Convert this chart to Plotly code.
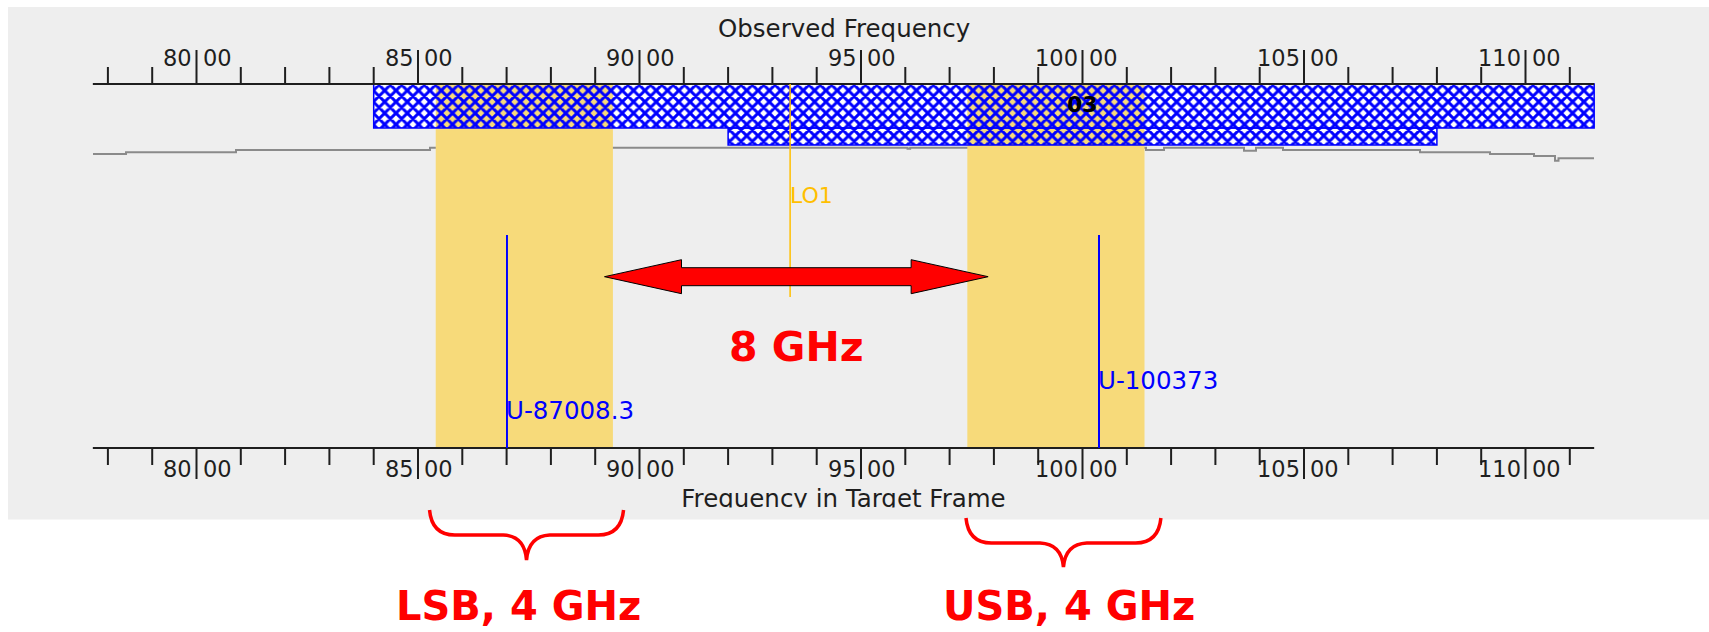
import plotly.graph_objects as go

# ---------------------------------------------------------------- data (MHz)
FREQ_MIN = 77660
FREQ_MAX = 111550
MAJOR_TICKS = [80000, 85000, 90000, 95000, 100000, 105000, 110000]
MINOR_TICKS = [f for f in range(78000, 111001, 1000) if f not in MAJOR_TICKS]

RX_BAND = [84000, 116000]          # receiver band 3
RX_BAND_LABEL = "03"
LO_TUNING = [92000, 108000]        # LO1 tuning range
LO1_FREQ = 93400
LO1_LABEL = "LO1"
LSB_RANGE = [85400, 89400]
USB_RANGE = [97400, 101400]
LINE_FREQS = [87008.3, 100373]
LINE_LABELS = ["U-87008.3", "U-100373"]

# atmospheric transmission across the displayed span
ATM_FREQ = [77664, 78409, 80892, 85271, 96050, 96110, 101433, 101840, 103646,
            103916, 104526, 107619, 109199, 110192, 110666, 110745, 111546]
ATM_TRANS = [0.760, 0.777, 0.800, 0.823, 0.813, 0.823, 0.800, 0.823, 0.793,
             0.823, 0.800, 0.777, 0.760, 0.740, 0.693, 0.717, 0.717]

# ---------------------------------------------------------------- layout
W, H = 1709, 632
PX_PER_MHZ = 0.0443
X0 = 80000 - 196.5 / PX_PER_MHZ
X1 = X0 + W / PX_PER_MHZ

TOP_AXIS, BOT_AXIS = 84, 448
FONT = "DejaVu Sans"
INK = "#1e1e1e"
BLUE = "#0000FF"
YELLOW = "#F7DA7A"
ORANGE = "#FFBF00"
RED = "#FF0000"
BG = "#EEEEEE"


def py(row):
    """row (pixels from top) -> paper fraction"""
    return 1 - row / H


def segments(xs, r0, r1):
    x, y = [], []
    for f in xs:
        x += [f, f, None]
        y += [r0, r1, None]
    return x, y


def hbar(lo, hi, r0, r1, **kw):
    return go.Bar(orientation="h", base=[lo], x=[hi - lo], y=[(r0 + r1) / 2],
                  width=[r1 - r0], yaxis="y2", hoverinfo="skip", showlegend=False, **kw)


fig = go.Figure()

# transmission curve (base axis, drawn beneath everything else)
fig.add_trace(go.Scatter(x=ATM_FREQ, y=ATM_TRANS, mode="lines", yaxis="y",
                         line=dict(color="#8A8A8A", width=2, shape="hv"),
                         hoverinfo="skip", showlegend=False))

# frequency axes with ticks
ax_x = [FREQ_MIN, FREQ_MAX, None, FREQ_MIN, FREQ_MAX]
ax_y = [TOP_AXIS, TOP_AXIS, None, BOT_AXIS, BOT_AXIS]
for xs, r0, r1 in [(MINOR_TICKS, TOP_AXIS, 67), (MAJOR_TICKS, TOP_AXIS, 50),
                   (MINOR_TICKS, BOT_AXIS, 465), (MAJOR_TICKS, BOT_AXIS, 479)]:
    sx, sy = segments(xs, r0, r1)
    ax_x += [None] + sx
    ax_y += [None] + sy
fig.add_trace(go.Scatter(x=ax_x, y=ax_y, mode="lines", yaxis="y2",
                         line=dict(color=INK, width=2), hoverinfo="skip", showlegend=False))

rx_hi = min(RX_BAND[1], FREQ_MAX)
boxes = [(RX_BAND[0], rx_hi, 84, 128), (LO_TUNING[0], LO_TUNING[1], 128, 145)]

# white backing of the hatched boxes
for lo, hi, r0, r1 in boxes:
    fig.add_trace(hbar(lo, hi, r0, r1, marker=dict(color="white", line=dict(width=0))))

# sidebands
for lo, hi in (LSB_RANGE, USB_RANGE):
    fig.add_trace(hbar(lo, hi, TOP_AXIS, BOT_AXIS - 1, marker=dict(color=YELLOW, line=dict(width=0))))

# hatched boxes
for lo, hi, r0, r1 in boxes:
    fig.add_trace(hbar(lo, hi, r0, r1, marker=dict(
        color=BLUE, line=dict(color=BLUE, width=1.5),
        pattern=dict(shape="x", size=8, solidity=0.6, fillmode="replace"))))

# LO1 marker
fig.add_trace(go.Scatter(x=[LO1_FREQ, LO1_FREQ], y=[TOP_AXIS, 297], mode="lines", yaxis="y2",
                         line=dict(color=ORANGE, width=1.5), hoverinfo="skip", showlegend=False))

# spectral lines
lx, ly = segments(LINE_FREQS, 235, BOT_AXIS)
fig.add_trace(go.Scatter(x=lx, y=ly, mode="lines", yaxis="y2",
                         line=dict(color=BLUE, width=2), hoverinfo="skip", showlegend=False))

# lower axis title (its descenders are trimmed by the panel edge)
fig.add_trace(go.Scatter(x=[(FREQ_MIN + FREQ_MAX) / 2], y=[500.5], mode="text", yaxis="y2",
                         text=["Frequency in Target Frame"],
                         textfont=dict(family=FONT, size=24.5, color=INK),
                         textposition="middle center", hoverinfo="skip", showlegend=False))

ann = []


def label(x, row, text, size, color=INK, xanchor="center", xshift=0, weight="normal"):
    ann.append(dict(x=x, y=row, xref="x", yref="y2", text=text, showarrow=False,
                    xanchor=xanchor, yanchor="middle", xshift=xshift, borderpad=0,
                    font=dict(family=FONT, size=size, color=color, weight=weight)))


for f in MAJOR_TICKS:
    for row in (58, 469):
        label(f, row, str(f // 1000), 22.5, xanchor="right", xshift=-3.5)
        label(f, row, "00", 22.5, xanchor="left", xshift=5)

label((FREQ_MIN + FREQ_MAX) / 2, 28, "Observed Frequency", 24.5)
label((RX_BAND[0] + RX_BAND[1]) / 2, 104, RX_BAND_LABEL, 22, color="#000000", weight="bold")
label(LO1_FREQ, 195, LO1_LABEL, 22, color=ORANGE, xanchor="left", xshift=-1)
for f, t, row in zip(LINE_FREQS, LINE_LABELS, [410, 380]):
    label(f, row, t, 24.5, color=BLUE, xanchor="left", xshift=-2)

# IF separation arrow
gap = USB_RANGE[0] - LSB_RANGE[1]
a_l, a_r = LSB_RANGE[1] - 190, USB_RANGE[0] + 470
head = 77 / PX_PER_MHZ
rc = 276.7
pts = [(a_l, rc), (a_l + head, rc - 17), (a_l + head, rc - 9), (a_r - head, rc - 9),
       (a_r - head, rc - 17), (a_r, rc), (a_r - head, rc + 17), (a_r - head, rc + 9),
       (a_l + head, rc + 9), (a_l + head, rc + 17)]
arrow_path = "M " + " L ".join(f"{x},{py(r)}" for x, r in pts) + " Z"
label((a_l + a_r) / 2, 347, f"{gap / 1000:g} GHz", 41, color=RED, weight="bold")

# sideband braces
shapes = [dict(type="rect", xref="paper", yref="paper", x0=8 / W, x1=1, y0=py(519), y1=py(7),
               fillcolor=BG, line=dict(width=0), layer="below"),
          dict(type="rect", xref="paper", yref="paper", x0=8 / W, x1=1, y0=py(519.5), y1=py(507.5),
               fillcolor=BG, line=dict(width=0), layer="above"),
          dict(type="path", xref="x", yref="paper", path=arrow_path, fillcolor=RED,
               line=dict(color="#000000", width=1), layer="above")]

for (lo, hi), (pl, pr), (rt, rm, rb), name, shift in [
        (LSB_RANGE, (-140, 240), (510, 535, 560), "LSB", -180),
        (USB_RANGE, (-30, 370), (518, 543, 567), "USB", 120)]:
    l, r = lo + pl, hi + pr
    w = r - l
    c = (l + r) / 2
    path = (f"M {l},{py(rt)} Q {l + 0.012 * w},{py(rm)} {l + 0.13 * w},{py(rm)} "
            f"L {c - 0.12 * w},{py(rm)} Q {c - 0.01 * w},{py(rm + 1)} {c},{py(rb)} "
            f"Q {c + 0.01 * w},{py(rm + 1)} {c + 0.12 * w},{py(rm)} "
            f"L {r - 0.13 * w},{py(rm)} Q {r - 0.012 * w},{py(rm)} {r},{py(rt)}")
    shapes.append(dict(type="path", xref="x", yref="paper", path=path,
                       line=dict(color=RED, width=3.5), layer="above"))
    label(c + shift, 606, f"{name}, {(hi - lo) / 1000:g} GHz", 40, color=RED, weight="bold")

fig.update_layout(
    width=W, height=H, margin=dict(l=0, r=0, t=0, b=0),
    paper_bgcolor="white", plot_bgcolor="rgba(0,0,0,0)",
    barmode="overlay", showlegend=False,
    xaxis=dict(range=[X0, X1], visible=False, fixedrange=True),
    yaxis=dict(range=[-4.02, 2.30], visible=False, fixedrange=True),
    yaxis2=dict(range=[H, 0], overlaying="y", visible=False, fixedrange=True),
    shapes=shapes, annotations=ann,
)

fig.write_html("out.html", config={"displayModeBar": False})
